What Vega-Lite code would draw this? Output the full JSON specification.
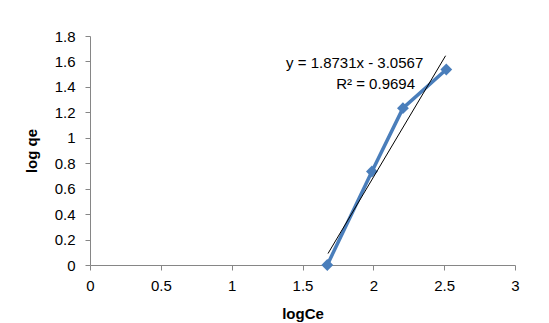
{
  "$schema": "https://vega.github.io/schema/vega-lite/v6.json",
  "width": 425,
  "height": 229,
  "autosize": {"type": "none"},
  "padding": {"left": 90, "top": 36, "right": 34, "bottom": 58},
  "background": "white",
  "config": {
    "view": {"stroke": null},
    "font": "Liberation Sans",
    "axis": {
      "grid": false,
      "domainColor": "#868686",
      "tickColor": "#868686",
      "tickSize": 5,
      "labelFont": "Liberation Sans",
      "labelFontSize": 15,
      "labelColor": "#000000",
      "labelOverlap": false,
      "labelFlush": false,
      "titleFont": "Liberation Sans",
      "titleFontSize": 15,
      "titleFontWeight": "bold",
      "titleColor": "#000000"
    }
  },
  "datasets": {
    "pts": [
      {"logCe": 1.675, "logqe": 0.0},
      {"logCe": 1.99, "logqe": 0.735},
      {"logCe": 2.209, "logqe": 1.233},
      {"logCe": 2.515, "logqe": 1.537}
    ],
    "trend": [
      {"logCe": 1.68, "logqe": 0.0901},
      {"logCe": 2.51, "logqe": 1.6448}
    ],
    "labels": [
      {"logCe": 1.868, "logqe": 1.59, "text": "y = 1.8731x - 3.0567"},
      {"logCe": 2.016, "logqe": 1.425, "text": "R² = 0.9694"}
    ]
  },
  "encoding": {
    "x": {
      "field": "logCe", "type": "quantitative",
      "scale": {"domain": [0, 3], "nice": false, "zero": false},
      "axis": {"values": [0, 0.5, 1, 1.5, 2, 2.5, 3], "format": ".1~f", "title": "logCe", "titlePadding": 13, "labelPadding": 8}
    },
    "y": {
      "field": "logqe", "type": "quantitative",
      "scale": {"domain": [0, 1.8], "nice": false},
      "axis": {"values": [0, 0.2, 0.4, 0.6, 0.8, 1, 1.2, 1.4, 1.6, 1.8], "format": ".1~f", "title": "log qe", "titlePadding": 15, "labelPadding": 10}
    }
  },
  "layer": [
    {
      "data": {"name": "pts"},
      "mark": {"type": "line", "color": "#4a7ebb", "strokeWidth": 3.5}
    },
    {
      "data": {"name": "pts"},
      "mark": {"type": "point", "shape": "diamond", "filled": true, "color": "#4a7ebb", "size": 140, "opacity": 1}
    },
    {
      "data": {"name": "trend"},
      "mark": {"type": "line", "color": "#000000", "strokeWidth": 1}
    },
    {
      "data": {"name": "labels"},
      "mark": {"type": "text", "fontSize": 15, "font": "Liberation Sans", "color": "#000000", "align": "center", "baseline": "middle"},
      "encoding": {
        "text": {"field": "text"}
      }
    }
  ]
}
